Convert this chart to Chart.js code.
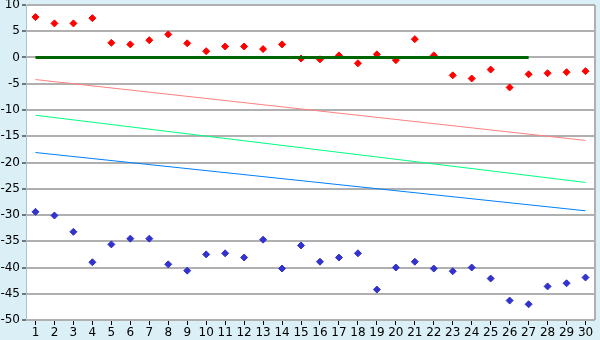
<!DOCTYPE html>
<html>
<head>
<meta charset="utf-8">
<script src="https://cdn.jsdelivr.net/npm/chart.js@4/dist/chart.umd.min.js"></script>
<style>
  body { margin: 0; background: #daeff6; }
  #wrap { width: 600px; height: 340px; }
</style>
</head>
<body>
<div id="wrap"><canvas id="chart" width="600" height="340"></canvas></div>
<script>
const categories = ['1','2','3','4','5','6','7','8','9','10','11','12','13','14','15',
                    '16','17','18','19','20','21','22','23','24','25','26','27','28','29','30'];

const redPoints = [7.7, 6.5, 6.5, 7.5, 2.8, 2.5, 3.3, 4.4, 2.7, 1.2,
                   2.1, 2.1, 1.6, 2.5, -0.2, -0.35, 0.4, -1.1, 0.6, -0.5,
                   3.5, 0.4, -3.4, -4.0, -2.3, -5.7, -3.2, -3.0, -2.8, -2.6];

const bluePoints = [-29.4, -30.1, -33.2, -39.0, -35.6, -34.5, -34.5, -39.4, -40.6, -37.5,
                    -37.3, -38.1, -34.7, -40.2, -35.8, -38.9, -38.1, -37.3, -44.2, -40.0,
                    -38.9, -40.2, -40.7, -40.0, -42.1, -46.3, -47.0, -43.6, -43.0, -41.9];

// straight lines: [category, value] at each end
const zeroLine   = [['1', 0], ['27', 0]];
const pinkTrend  = [['1', -4.2], ['30', -15.8]];
const greenTrend = [['1', -11.0], ['30', -23.8]];
const blueTrend  = [['1', -18.1], ['30', -29.2]];

const yTicks = { min: -50, max: 10, step: 5 };

function toXY(pairs) {
    return pairs.map(p => ({ x: p[0], y: p[1] }));
}

const frame = {
    id: 'frame',
    beforeDraw(chart) {
        const ctx = chart.ctx, a = chart.chartArea;
        ctx.save();
        ctx.fillStyle = '#daeff6';
        ctx.fillRect(0, 0, chart.width, chart.height);
        ctx.fillStyle = '#ffffff';
        ctx.fillRect(a.left, a.top, a.right - a.left, a.bottom - a.top);
        ctx.restore();
    },
    afterDraw(chart) {
        const ctx = chart.ctx, a = chart.chartArea;
        ctx.save();
        ctx.strokeStyle = '#b0b0b0';
        ctx.lineWidth = 2;
        ctx.beginPath();
        ctx.moveTo(a.right, a.top);
        ctx.lineTo(a.right, a.bottom);
        ctx.stroke();
        ctx.restore();
    }
};

const marker = { showLine: false, pointStyle: 'rectRot', pointRadius: 3.5, pointBorderWidth: 1 };
const trend = { pointRadius: 0, borderWidth: 1, tension: 0 };

new Chart(document.getElementById('chart'), {
    type: 'line',
    data: {
        labels: categories,
        datasets: [
            { data: toXY(pinkTrend), borderColor: '#ff8080', ...trend },
            { data: toXY(greenTrend), borderColor: '#00ff80', ...trend },
            { data: toXY(blueTrend), borderColor: '#0080ff', ...trend },
            { data: toXY(zeroLine), borderColor: '#006400', pointRadius: 0, borderWidth: 3 },
            { data: redPoints, backgroundColor: '#ff0000', borderColor: '#ff0000', ...marker },
            { data: bluePoints, backgroundColor: '#3333cc', borderColor: '#3333cc', ...marker }
        ]
    },
    options: {
        responsive: false,
        animation: false,
        layout: { padding: { top: 5, right: 5, left: 0, bottom: 0 } },
        plugins: { legend: { display: false }, tooltip: { enabled: false } },
        scales: {
            x: {
                offset: true,
                grid: { drawOnChartArea: false, drawTicks: true, tickLength: 5, tickColor: '#000' },
                border: { display: false },
                ticks: { color: '#000', font: { family: 'DejaVu Sans', size: 12 }, padding: 1,
                         maxRotation: 0, autoSkip: false },
                afterFit(s) { s.height = 20; s.paddingLeft = 0; s.paddingRight = 0; }
            },
            y: {
                min: yTicks.min,
                max: yTicks.max,
                grid: { color: '#b0b0b0', lineWidth: 2, tickLength: 4, tickColor: '#000', tickWidth: 1 },
                border: { display: true, color: '#a8c4d0', width: 1 },
                ticks: { stepSize: yTicks.step, color: '#000', padding: 2,
                         font: { family: 'DejaVu Sans', size: 12 } },
                afterFit(s) { s.width = 26; s.paddingTop = 0; s.paddingBottom = 0; }
            }
        }
    },
    plugins: [frame]
});
</script>
</body>
</html>
